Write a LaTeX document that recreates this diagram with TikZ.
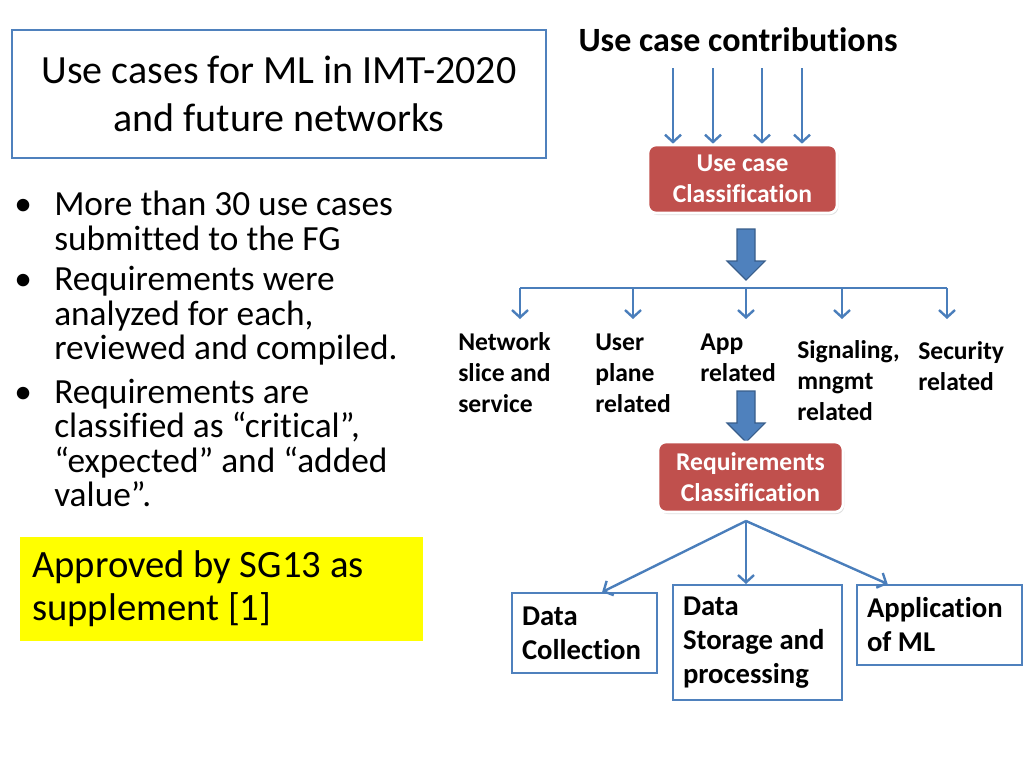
\documentclass[tikz,border=0pt]{standalone}
\usepackage{fontspec}
\setmainfont{Carlito}[Ligatures=NoCommon]
\usepackage{xcolor}
\usepackage{tikz}
\usetikzlibrary{calc,arrows.meta,shadows}
\definecolor{edge}{HTML}{4A7EBB}
\definecolor{frame}{HTML}{4F81BD}
\definecolor{arrowline}{HTML}{385D8A}
\definecolor{redbox}{HTML}{C0504D}
\definecolor{hilite}{HTML}{FFFF00}
\definecolor{ink}{HTML}{000000}
\tikzset{
  flow/.style={draw=edge, line width=1.8pt, -{Straight Barb[length=5.5pt,width=12pt]}},
  bus/.style={draw=edge, line width=1.8pt},
  bigarrow/.style={draw=arrowline, fill=frame, line width=0.8pt, line join=miter},
  stage/.style={
    rectangle,
    rounded corners=6pt,
    fill=redbox,
    draw=white,
    line width=2pt,
    text=white,
    align=center,
    inner sep=0pt,
    font=\fontsize{19.2}{23}\selectfont\bfseries,
    drop shadow={opacity=0.25, shadow xshift=1pt, shadow yshift=-1.5pt}
  },
  box/.style={
    rectangle,
    draw=frame,
    line width=1.5pt,
    fill=white,
    inner xsep=7.5pt,
    inner ysep=0pt,
    align=flush left,
    text=ink,
    font=\fontsize{21.5}{25.5}\selectfont\bfseries
  },
  kind/.style={anchor=west, align=flush left, inner sep=0pt, text=ink,
    font=\fontsize{19.2}{23.25}\selectfont\bfseries},
  item/.style={anchor=west, align=flush left, inner sep=0pt, text=ink,
    font=\fontsize{26.5}{25.9}\selectfont}
}
\newcommand{\dotitem}{\llap{\hbox to 30pt{\textbullet\hss}}}

\begin{document}
\begin{tikzpicture}[x=0.75pt, y=-0.75pt]
  \useasboundingbox (0,0) rectangle (1024,768);

  % left column
  \node[rectangle, draw=frame, line width=1.5pt, minimum width=400.5pt, minimum height=96pt,
    align=center, font=\fontsize{30}{36}\selectfont] (title) at (279,94)
    {Use cases for ML in IMT-2020\\and future networks};

  \node[item] (item1) at (54,221) {\dotitem More than 30 use cases\\submitted to the FG};
  \node[item] (item2) at (54,316) {\dotitem Requirements were\\analyzed for each,\\reviewed and compiled.};
  \node[item] (item3) at (54,443) {\dotitem Requirements are\\classified as “critical”,\\“expected” and “added\\value”.};

  \node[rectangle, fill=hilite, minimum width=302.25pt, minimum height=78pt, inner xsep=9pt,
    text width=284pt, align=flush left, font=\fontsize{29}{32}\selectfont] (approved) at (221.5,589)
    {Approved by SG13 as\\supplement [1]};

  % right column
  \node[font=\fontsize{25.5}{28}\selectfont\bfseries, inner sep=0pt] (head) at (738,40) {Use case contributions};

  \node[stage, minimum width=141.75pt, minimum height=51pt] (usecl) at (742.5,179) {Use case\\Classification};
  \foreach \x in {673,713,762,802}
    \draw[flow] (\x,68) -- (\x,68 |- usecl.north);

  \coordinate (tip1) at (746,280);
  \coordinate (tip2) at (746,442);
  \foreach \tip in {tip1,tip2}
    \filldraw[bigarrow] (\tip) -- ++(19,-19) -- ++(-10,0) -- ++(0,-32) -- ++(-18,0)
      -- ++(0,32) -- ++(-10,0) -- cycle;

  \coordinate (busl) at (520,288);
  \coordinate (busr) at (947,288);
  \draw[bus] (busl) -- (busr);
  \foreach \x in {520,633,746,842,947}
    \draw[flow] (\x,288) -- (\x,319);

  \node[kind] (net) at (458,373) {Network\\slice and\\service};
  \node[kind] (user) at (595,373) {User\\plane\\related};
  \node[kind] (app) at (700,358) {App\\related};
  \node[kind] (sig) at (797,381) {Signaling,\\mngmt\\related};
  \node[kind] (sec) at (918,366) {Security\\related};

  \node[stage, minimum width=138.75pt, minimum height=52.5pt] (reqcl) at (750.5,477) {Requirements\\Classification};

  \node[box, minimum width=108.75pt, minimum height=60pt, text width=93.75pt] (dc) at (584.5,633) {Data\\Collection};
  \node[box, minimum width=126.75pt, minimum height=86.25pt, text width=111.75pt] (ds) at (757.5,642.5) {Data\\Storage and\\processing};
  \node[box, minimum width=123.75pt, minimum height=60pt, text width=108.75pt] (ml) at (939.5,625) {Application\\of ML};

  \coordinate (split) at (746,521);
  \draw[flow] (split) -- ($(dc.north west)!0.62!(dc.north east)$);
  \draw[flow] (split) -- (split |- ds.north);
  \draw[flow] (split) -- ($(ml.north west)!0.19!(ml.north east)$);
\end{tikzpicture}
\end{document}
